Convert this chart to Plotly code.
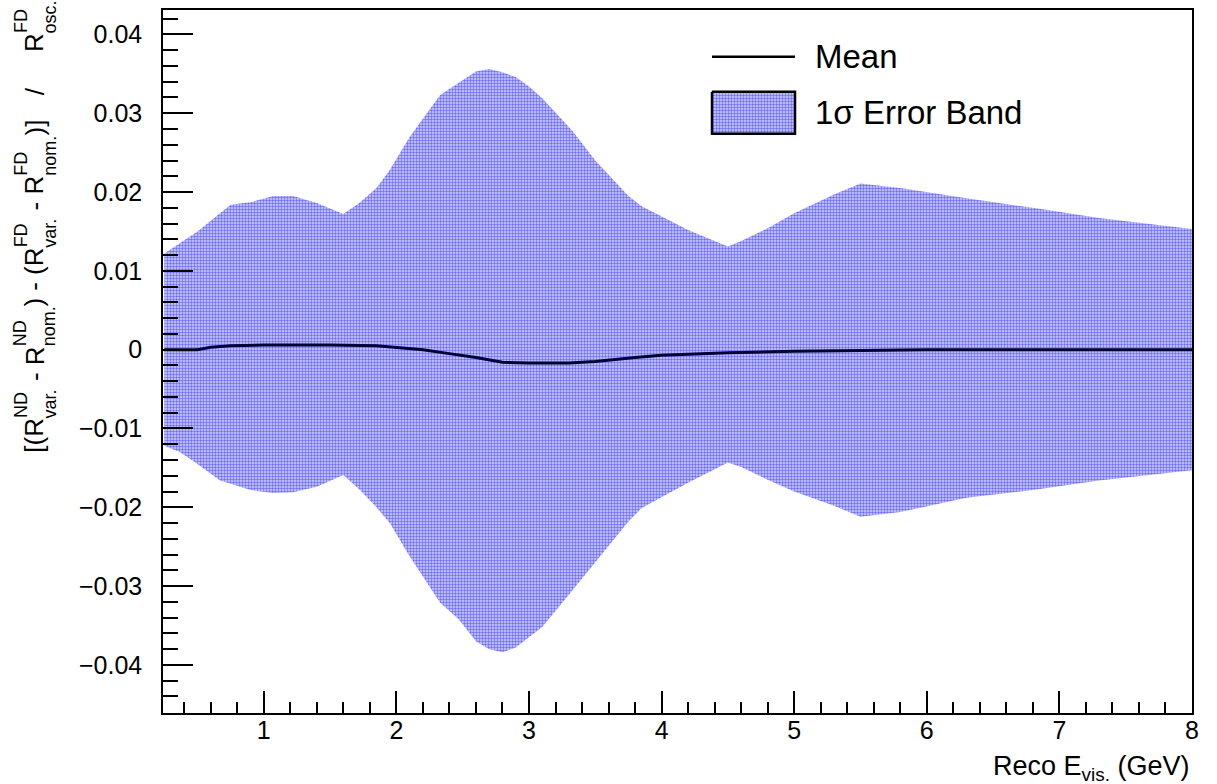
import plotly.graph_objects as go

# ---------------- data ----------------
energy = [0.25, 0.37, 0.5, 0.67, 0.75, 0.85, 0.9, 1.07, 1.22, 1.4, 1.6, 1.72, 1.85, 1.95,
          2.1, 2.33, 2.47, 2.6, 2.7, 2.8, 2.9, 3.0, 3.1, 3.33, 3.5, 3.75, 3.85, 4.2, 4.5,
          4.6, 4.8, 5.0, 5.3, 5.5, 5.8, 6.3, 6.8, 7.3, 8.0]
band_upper = [0.0122, 0.0135, 0.0150, 0.0173, 0.0184, 0.0186, 0.0187, 0.0195, 0.0195, 0.0186,
              0.0172, 0.0186, 0.0205, 0.0228, 0.0270, 0.0323, 0.0338, 0.0353, 0.0356, 0.0352,
              0.0346, 0.0334, 0.0319, 0.0277, 0.0240, 0.0195, 0.0182, 0.0152, 0.0131, 0.0138,
              0.0154, 0.0173, 0.0197, 0.0211, 0.0205, 0.0192, 0.0180, 0.0167, 0.0153]
band_lower = [-0.0122, -0.0130, -0.0145, -0.0166, -0.0170, -0.0176, -0.0178, -0.0182, -0.0181,
              -0.0174, -0.0159, -0.0177, -0.0200, -0.0220, -0.0262, -0.0321, -0.0342, -0.0370,
              -0.0380, -0.0384, -0.0378, -0.0365, -0.0352, -0.0305, -0.0270, -0.0218, -0.0201,
              -0.0169, -0.0143, -0.0149, -0.0165, -0.0180, -0.0198, -0.0212, -0.0206, -0.0188,
              -0.0178, -0.0166, -0.0153]

mean_x = [0.25, 0.5, 0.6, 0.75, 1.0, 1.5, 1.85, 2.0, 2.2, 2.4, 2.6, 2.8, 3.0, 3.3, 3.5, 3.8,
          4.0, 4.5, 5.0, 5.5, 6.0, 7.0, 8.0]
mean_y = [0.0, 0.0, 0.0003, 0.0005, 0.0006, 0.0006, 0.0005, 0.0003, 0.0, -0.0005, -0.0010,
          -0.0016, -0.0017, -0.0017, -0.0015, -0.0010, -0.0007, -0.0004, -0.0002, -0.0001,
          0.0, 0.0, 0.0]

legend_labels = ["Mean", "1σ Error Band"]
x_title = "Reco E<sub>vis.</sub> (GeV)"

# ---------------- layout constants (pixels) ----------------
W, H = 1217, 784
L, R, T, B = 163, 25, 8, 71
PW, PH = W - L - R, H - T - B
FONT = "Liberation Sans"
BLUE_PATTERN = dict(shape=".", fgcolor="#0000ff", bgcolor="#d4d4ff", size=3, solidity=0.5)


def px2paper_x(px):
    return (px - L) / PW


def px2paper_y(py):
    return (H - B - py) / PH


fig = go.Figure()

fig.add_trace(go.Scatter(x=energy, y=band_lower, mode="lines", line=dict(width=0),
                         showlegend=False, hoverinfo="skip"))
fig.add_trace(go.Scatter(x=energy, y=band_upper, mode="lines", line=dict(width=0),
                         fill="tonexty", fillcolor="rgba(0,0,255,0.5)",
                         fillpattern=BLUE_PATTERN, showlegend=False, hoverinfo="skip"))
fig.add_trace(go.Scatter(x=mean_x, y=mean_y, mode="lines",
                         line=dict(color="#000033", width=3), showlegend=False))

# ---------------- hand-drawn legend (pixel overlay axes) ----------------
lx0, lx1 = 712, 795
fig.add_trace(go.Scatter(x=[lx0, lx1], y=[55, 55], mode="lines", xaxis="x2", yaxis="y2",
                         line=dict(color="black", width=2.5), showlegend=False, hoverinfo="skip"))
fig.add_trace(go.Scatter(x=[lx0, lx1, lx1, lx0, lx0], y=[90, 90, 132, 132, 90], mode="lines",
                         xaxis="x2", yaxis="y2", fill="toself", fillcolor="rgba(0,0,255,0.5)",
                         fillpattern=BLUE_PATTERN, line=dict(color="black", width=2.5),
                         showlegend=False, hoverinfo="skip"))

annotations = []
for lab, yy in zip(legend_labels, [55, 111]):
    annotations.append(dict(x=813, y=yy, xref="x2", yref="y2", text=lab, showarrow=False,
                            xanchor="left", yanchor="middle",
                            font=dict(family=FONT, size=33, color="black")))

# x-axis title
annotations.append(dict(x=1, y=0, xref="paper", yref="paper", text=x_title, showarrow=False,
                        xanchor="right", yanchor="top", yshift=-36, xshift=-1,
                        font=dict(family=FONT, size=27, color="black")))

# ---------------- y-axis title built from pieces (stacked super/subscripts) ----------------
ARIAL = {'[': .278, '(': .333, ')': .333, ']': .278, 'R': .722, 'N': .722, 'D': .722,
         'F': .611, 'v': .5, 'a': .556, 'r': .333, '.': .278, 'n': .556, 'o': .556,
         'm': .833, 's': .5, 'c': .5, '-': .333, '/': .278, ' ': .278}


def tw(s, size):
    return sum(ARIAL.get(c, .55) for c in s) * size


FB, FS = 26, 18
base_right = 45 + 0.212 * FB
sup_right = 28 + 0.212 * FS
sub_right = 57 + 0.212 * FS
pos = [453.0]


def put(text, size, right_px):
    annotations.append(dict(x=px2paper_x(right_px), y=px2paper_y(pos[0]), xref="paper",
                            yref="paper", text=text, showarrow=False, textangle=-90,
                            xanchor="right", yanchor="bottom", borderpad=0,
                            font=dict(family=FONT, size=size, color="black")))


def base(text):
    put(text, FB, base_right)
    pos[0] -= tw(text, FB)


def stack(sup, sub):
    put(sup, FS, sup_right)
    put(sub, FS, sub_right)
    pos[0] -= max(tw(sup, FS), tw(sub, FS))


def space(em=0.278):
    pos[0] -= em * FB


def goto(py):
    pos[0] = py


base("[(R"); stack("ND", "var."); space(); base("-"); space(); base("R"); stack("ND", "nom.")
base(")"); space(); base("-"); space(); base("(R"); stack("FD", "var."); space(); base("-")
space(); base("R"); stack("FD", "nom."); base(")]"); goto(95); base("/"); goto(51); base("R")
stack("FD", "osc.")

axis_common = dict(showgrid=False, zeroline=False, showline=True, linecolor="black",
                   linewidth=1.5, mirror=True, ticks="inside", tickcolor="black",
                   tickwidth=1.5, tickfont=dict(family=FONT, size=25, color="black"))

fig.update_layout(
    width=W, height=H,
    margin=dict(l=L, r=R, t=T, b=B),
    paper_bgcolor="white", plot_bgcolor="white",
    showlegend=False,
    xaxis=dict(range=[0.24, 8], tick0=0, dtick=1, ticklen=22, ticklabelstandoff=-6,
               minor=dict(dtick=0.2, ticklen=11, ticks="inside", tickcolor="black", tickwidth=1.5),
               **axis_common),
    yaxis=dict(range=[-0.0461, 0.0431], tick0=0, dtick=0.01, ticklen=30, ticklabelstandoff=14,
               minor=dict(dtick=0.002, ticklen=15, ticks="inside", tickcolor="black", tickwidth=1.5),
               **axis_common),
    xaxis2=dict(range=[L, W - R], overlaying="x", anchor="y2", visible=False, fixedrange=True),
    yaxis2=dict(range=[H - B, T], overlaying="y", anchor="x2", visible=False, fixedrange=True),
    annotations=annotations,
)

fig.write_html("out.html")
